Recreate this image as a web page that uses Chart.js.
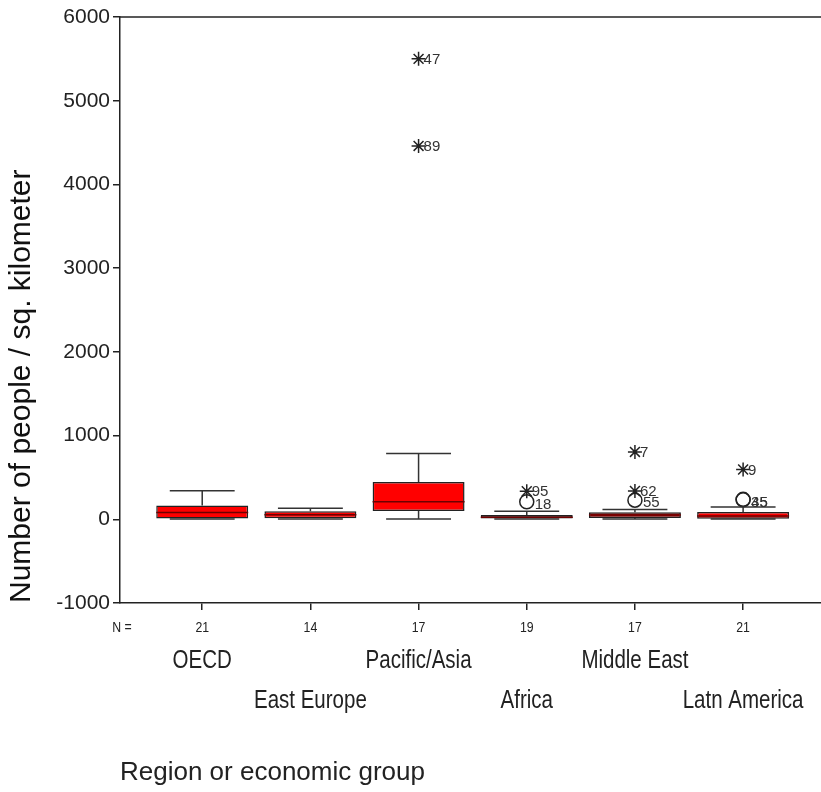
<!DOCTYPE html>
<html>
<head>
<meta charset="utf-8">
<script src="https://cdn.jsdelivr.net/npm/chart.js@4.4.0/dist/chart.umd.min.js"></script>
<style>
  html, body { margin: 0; padding: 0; background: #fff; }
  #wrap { width: 821px; height: 792px; position: relative; }
</style>
</head>
<body>
<div id="wrap"><canvas id="boxChart"></canvas></div>
<script>
// box plot summary per region (people / sq. km)
const regions = ['OECD', 'East Europe', 'Pacific/Asia', 'Africa', 'Middle East', 'Latn America'];
const nCounts = [21, 14, 17, 19, 17, 21];
const whiskerLow = [2, 2, 3, 2, 3, 2];
const q1 = [10, 12, 100, 10, 15, 5];
const medians = [80, 55, 210, 25, 50, 40];
const q3 = [165, 95, 445, 50, 85, 87];
const whiskerHigh = [340, 132, 785, 96, 116, 148];
const yTicks = [-1000, 0, 1000, 2000, 3000, 4000, 5000, 6000];

// extreme values (*) and outliers (o): region position, value, case number
const extremeX = [3, 3, 4, 5, 5, 6];
const extremeY = [5500, 4460, 335, 805, 338, 595];
const extremeIds = ['47', '89', '95', '7', '62', '9'];
const outlierX = [4, 5, 6, 6];
const outlierY = [210, 228, 238, 232];
const outlierIds = ['18', '55', '35', '45'];

const boxFill = ['#ff0000', '#ff0000', '#ff0000', '#111111', '#9a0000', '#ff0000'];
const sans = '"Liberation Sans", Arial, sans-serif';
const squeeze = 0.82; // no narrow face installed, so squeeze the regular one

function narrowText(ctx, text, cx, cy) {
    ctx.save();
    ctx.translate(cx, cy);
    ctx.scale(squeeze, 1);
    ctx.fillText(text, 0, 0);
    ctx.restore();
}

const boxPlotParts = {
    id: 'boxPlotParts',
    afterDatasetsDraw(chart) {
        const { ctx, chartArea } = chart;
        const x = chart.scales.x, y = chart.scales.y;
        const bars = chart.getDatasetMeta(0).data;
        ctx.save();

        // top frame line
        ctx.strokeStyle = '#222';
        ctx.lineWidth = 1.5;
        ctx.beginPath();
        ctx.moveTo(chartArea.left, chartArea.top);
        ctx.lineTo(chartArea.right, chartArea.top);
        ctx.stroke();

        regions.forEach((name, i) => {
            const cx = x.getPixelForValue(i + 1);
            const capL = x.getPixelForValue(i + 1 - 0.3);
            const capR = x.getPixelForValue(i + 1 + 0.3);
            const half = bars[i].width / 2;

            ctx.strokeStyle = '#333';
            ctx.lineWidth = 1.5;
            ctx.beginPath();
            ctx.moveTo(cx, y.getPixelForValue(q3[i]));
            ctx.lineTo(cx, y.getPixelForValue(whiskerHigh[i]));
            ctx.moveTo(capL, y.getPixelForValue(whiskerHigh[i]));
            ctx.lineTo(capR, y.getPixelForValue(whiskerHigh[i]));
            ctx.moveTo(cx, y.getPixelForValue(q1[i]));
            ctx.lineTo(cx, y.getPixelForValue(whiskerLow[i]));
            ctx.moveTo(capL, y.getPixelForValue(whiskerLow[i]));
            ctx.lineTo(capR, y.getPixelForValue(whiskerLow[i]));
            ctx.stroke();

            // median
            ctx.strokeStyle = '#6e0000';
            ctx.lineWidth = 1.5;
            ctx.beginPath();
            ctx.moveTo(cx - half, y.getPixelForValue(medians[i]));
            ctx.lineTo(cx + half, y.getPixelForValue(medians[i]));
            ctx.stroke();
        });

        // case labels next to extremes / outliers
        ctx.font = '15px ' + sans;
        ctx.fillStyle = '#333';
        ctx.textAlign = 'left';
        ctx.textBaseline = 'middle';
        extremeIds.forEach((id, i) => {
            ctx.fillText(id, x.getPixelForValue(extremeX[i]) + 5, y.getPixelForValue(extremeY[i]) + 1);
        });
        outlierIds.forEach((id, i) => {
            ctx.fillText(id, x.getPixelForValue(outlierX[i]) + 8, y.getPixelForValue(outlierY[i]) + 3);
        });

        // N = row, N counts and region names (two staggered rows)
        const base = chartArea.bottom;
        ctx.fillStyle = '#222';
        ctx.textAlign = 'center';
        ctx.font = '15px ' + sans;
        narrowText(ctx, 'N =', chartArea.left + 2, base + 25);
        regions.forEach((name, i) => {
            narrowText(ctx, String(nCounts[i]), x.getPixelForValue(i + 1), base + 25);
        });
        ctx.font = '25px ' + sans;
        regions.forEach((name, i) => {
            const rowY = i % 2 === 0 ? base + 58 : base + 98;
            narrowText(ctx, name, x.getPixelForValue(i + 1), rowY);
        });
        ctx.restore();
    }
};

new Chart(document.getElementById('boxChart'), {
    type: 'bar',
    data: {
        datasets: [
            {
                label: 'IQR',
                data: regions.map((r, i) => ({ x: i + 1, y: [q1[i], q3[i]] })),
                backgroundColor: boxFill,
                borderColor: '#222',
                borderWidth: 1.5,
                borderSkipped: false,
                categoryPercentage: 0.85,
                barPercentage: 1.0,
                order: 2
            },
            {
                type: 'scatter',
                label: 'Outliers',
                data: outlierX.map((v, i) => ({ x: v, y: outlierY[i] })),
                pointStyle: 'circle',
                radius: 7,
                borderColor: '#222',
                borderWidth: 1.5,
                backgroundColor: 'rgba(0,0,0,0)',
                order: 1
            },
            {
                type: 'scatter',
                label: 'Extremes',
                data: extremeX.map((v, i) => ({ x: v, y: extremeY[i] })),
                pointStyle: 'star',
                radius: 7,
                borderColor: '#222',
                borderWidth: 1.5,
                backgroundColor: 'rgba(0,0,0,0)',
                order: 0
            }
        ]
    },
    options: {
        responsive: true,
        maintainAspectRatio: false,
        animation: false,
        layout: { autoPadding: false, padding: { top: 17, right: 0, bottom: 0, left: 0 } },
        plugins: {
            legend: { display: false },
            tooltip: { enabled: false }
        },
        scales: {
            x: {
                type: 'linear',
                min: 0.24,
                max: 6.72,
                offset: false,
                afterFit: (scale) => { scale.height = 189; },
                grid: { offset: false, drawOnChartArea: false, drawTicks: true, tickLength: 7, color: '#222', lineWidth: 1.5 },
                border: { display: true, color: '#222', width: 1.5 },
                ticks: {
                    stepSize: 1,
                    includeBounds: false,
                    autoSkip: false,
                    maxRotation: 0,
                    display: false
                },
                title: {
                    display: true,
                    text: 'Region or economic group',
                    align: 'start',
                    color: '#222',
                    font: { size: 26, family: sans },
                    padding: { top: 0, bottom: 4 }
                }
            },
            y: {
                min: -1000,
                max: 6000,
                afterFit: (scale) => { scale.width = 120; },
                afterBuildTicks: (scale) => { scale.ticks = yTicks.map(v => ({ value: v })); },
                grid: { drawOnChartArea: false, drawTicks: true, tickLength: 7, color: '#222', lineWidth: 1.5 },
                border: { display: true, color: '#222', width: 1.5 },
                ticks: {
                    padding: 3,
                    color: '#222',
                    font: { size: 21, family: sans },
                    callback: (v) => String(v)
                },
                title: {
                    display: true,
                    text: 'Number of people / sq. kilometer',
                    align: 'start',
                    color: '#111',
                    font: { size: 30, family: sans },
                    padding: { top: 4, bottom: 0 }
                }
            }
        }
    },
    plugins: [boxPlotParts]
});
</script>
</body>
</html>
